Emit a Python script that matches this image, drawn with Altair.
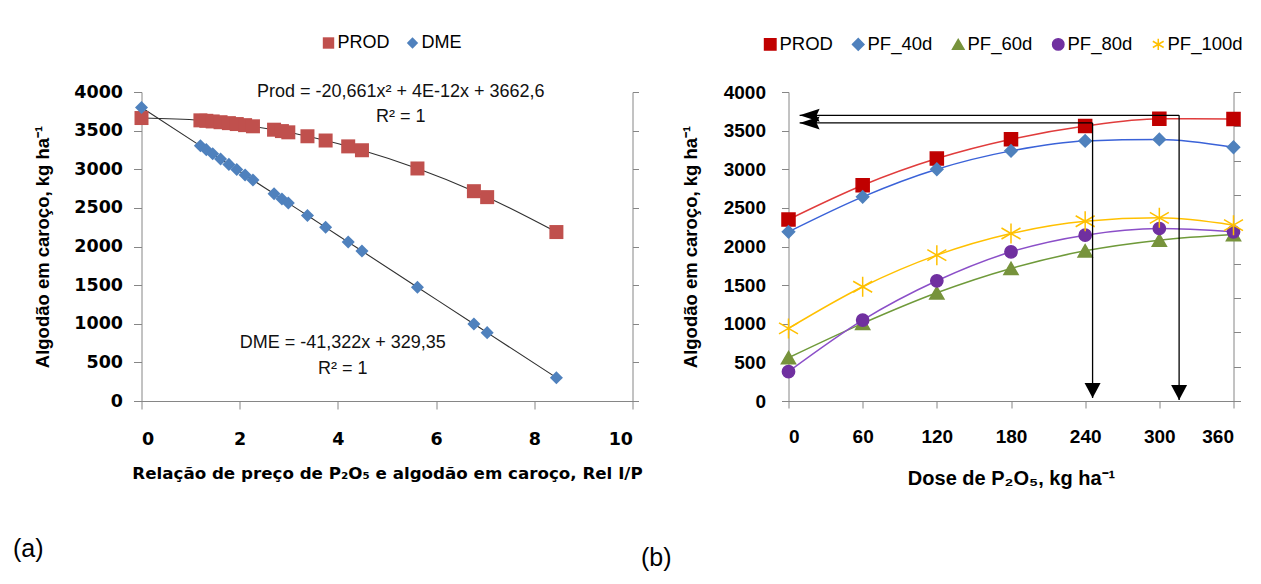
import altair as alt
import pandas as pd

# ---------------- panel (a) data ----------------
rel_ip = [0, 1.20, 1.32, 1.45, 1.61, 1.78, 1.94, 2.11, 2.27, 2.70, 2.86, 2.99,
          3.38, 3.75, 4.21, 4.49, 5.62, 6.77, 7.04, 8.45]
prod_a = [3663, 3633, 3627, 3619, 3609, 3597, 3585, 3571, 3556, 3512, 3494, 3478,
          3427, 3372, 3296, 3246, 3010, 2716, 2639, 2187]
dme_a = [3800, 3303, 3254, 3200, 3133, 3063, 2997, 2926, 2860, 2682, 2616, 2562,
         2401, 2248, 2057, 1941, 1473, 997, 885, 302]
series_a = ["PROD", "DME"]
colors_a = ["#C0504D", "#4F81BD"]
shapes_a = ["square", "diamond"]
sizes_a = [196, 170]

eq_text = ["Prod = -20,661x² + 4E-12x + 3662,6", "R² = 1",
           "DME = -41,322x + 329,35", "R² = 1"]
eq_x = [5.28, 5.28, 4.1, 4.1]
eq_y = [4000, 3680, 745, 420]

# ---------------- panel (b) data ----------------
doses = [0, 60, 120, 180, 240, 300, 360]
series_b = ["PROD", "PF_40d", "PF_60d", "PF_80d", "PF_100d"]
prod_b = [2349, 2793, 3138, 3388, 3560, 3655, 3650]
pf_40d = [2190, 2643, 3000, 3238, 3367, 3386, 3285]
pf_60d = [560, 1005, 1401, 1716, 1944, 2082, 2155]
pf_80d = [380, 1047, 1556, 1931, 2147, 2233, 2190]
pf_100d = [940, 1479, 1888, 2168, 2327, 2371, 2276]
marker_colors_b = ["#C00000", "#4F81BD", "#77933C", "#7030A0", "#FFC000"]
line_colors_b = ["#E03C3C", "#3A62D8", "#6F9A3A", "#8B4FC8", "#FFC000"]
ASTERISK = "M0,-1L0,1M-0.95,-0.55L0.95,0.55M-0.95,0.55L0.95,-0.55"
shapes_b = ["square", "diamond", "triangle-up", "circle", ASTERISK]
sizes_b = [170, 150, 200, 150, 400]

# arrows (panel b)
arrow_dose = [316, 246]
arrow_level = [3698, 3600]
arrow_tip_dose = [9, 9]
arrow_tip_level = [12, 40]
HEAD_LEFT = "M0,0L2,-0.65L1.7,0L2,0.65Z"
HEAD_DOWN = "M0,0L-0.8,-1.5L0.8,-1.5Z"

GRAY = "#868686"
W_A, H_A = 491, 309
W_B, H_B = 445, 309
PLOT_LEFT, PLOT_TOP = 133.5, 84     # offset of panel (a) plot area inside the svg
SVG_W, SVG_H = 1245, 568


def series_frame(xs, ys, names, sizes, xname):
    rows = []
    for name, vals, sz in zip(names, ys, sizes):
        for xv, yv in zip(xs, vals):
            rows.append({xname: xv, "val": yv, "serie": name, "sz": sz})
    return pd.DataFrame(rows)


df_a = series_frame(rel_ip, [prod_a, dme_a], series_a, sizes_a, "rel")
df_b = series_frame(doses, [prod_b, pf_40d, pf_60d, pf_80d, pf_100d], series_b, sizes_b, "dose")

SIZE_ID = alt.Size("sz:Q", scale=alt.Scale(domain=[0, 1000], range=[0, 1000], zero=True, nice=False),
                   legend=None)

# ---------------- panel (a) ----------------
x_a = alt.X("rel:Q", scale=alt.Scale(domain=[0, 10], nice=False, zero=False),
            axis=alt.Axis(values=[0, 2, 4, 6, 8, 10],
                          title="Relação de preço de P₂O₅ e algodão em caroço, Rel I/P",
                          grid=False, tickSize=8, labelPadding=21, titlePadding=18,
                          labelFont="DejaVu Sans", labelFontWeight="bold", labelFontSize=17.5,
                          titleFont="DejaVu Sans", titleFontWeight="bold", titleFontSize=16.7,
                          domainColor=GRAY, tickColor=GRAY, labelColor="#000", titleColor="#000"))
y_a = alt.Y("val:Q", scale=alt.Scale(domain=[0, 4000], nice=False),
            axis=alt.Axis(values=list(range(0, 4001, 500)), format="d", orient="left",
                          title="Algodão em caroço, kg ha⁻¹",
                          grid=False, tickSize=8, labelPadding=11, titlePadding=21,
                          labelFont="DejaVu Sans", labelFontWeight="bold", labelFontSize=17.5,
                          titleFont="Liberation Sans", titleFontWeight="bold", titleFontSize=18.5,
                          domainColor=GRAY, tickColor=GRAY, labelColor="#000", titleColor="#000"))

leg_a = alt.Legend(orient="none", legendX=178, legendY=-58, direction="horizontal",
                   title=None, labelFont="Liberation Sans", labelFontSize=18, labelColor="#000",
                   symbolSize=130, columnPadding=13, labelOffset=0, padding=0)

lines_a = alt.Chart(df_a).mark_line(color="#303030", strokeWidth=1.1, interpolate="monotone").encode(
    x=x_a, y=y_a, detail="serie:N")
points_a = alt.Chart(df_a).mark_point(filled=True, opacity=1).encode(
    x=x_a, y=y_a,
    fill=alt.Fill("serie:N", scale=alt.Scale(domain=series_a, range=colors_a), legend=leg_a),
    shape=alt.Shape("serie:N", scale=alt.Scale(domain=series_a, range=shapes_a), legend=leg_a),
    size=SIZE_ID)
eq_df = pd.DataFrame({"rel": eq_x, "val": eq_y, "txt": eq_text})
texts_a = alt.Chart(eq_df).mark_text(font="Liberation Sans", fontSize=18, color="#111",
                                     align="center", baseline="middle").encode(
    x=x_a, y=y_a, text="txt:N")
lab_a = alt.Chart(pd.DataFrame({"txt": ["(a)"]})).mark_text(
    font="Liberation Sans", fontSize=25, align="left", baseline="middle", color="#000").encode(
    x=alt.value(-128.5), y=alt.value(457), text="txt:N")
raxis_a = alt.Chart(pd.DataFrame({"k": [0]})).mark_point(opacity=0).encode(
    y=alt.Y("k:Q", scale=alt.Scale(domain=[0, 4000], nice=False),
            axis=alt.Axis(orient="right", values=list(range(0, 4001, 500)), labels=False,
                          title=None, tickSize=6, grid=False, domainColor=GRAY, tickColor=GRAY)))

panel_a = alt.layer(alt.layer(lines_a, points_a, texts_a, lab_a), raxis_a).resolve_scale(
    y="independent").properties(width=W_A, height=H_A)

# ---------------- panel (b) ----------------
x_b = alt.X("dose:Q", scale=alt.Scale(domain=[0, 360], nice=False, zero=False),
            axis=alt.Axis(values=doses, title="Dose de P₂O₅, kg ha⁻¹",
                          grid=False, tickSize=7, labelPadding=19, titlePadding=22,
                          labelFont="Liberation Sans", labelFontWeight="bold", labelFontSize=19,
                          titleFont="Liberation Sans", titleFontWeight="bold", titleFontSize=20,
                          domainColor=GRAY, tickColor=GRAY, labelColor="#000", titleColor="#000"))
y_b = alt.Y("val:Q", scale=alt.Scale(domain=[0, 4000], nice=False),
            axis=alt.Axis(values=list(range(0, 4001, 500)), format="d", orient="left",
                          title="Algodão em caroço, kg ha⁻¹",
                          grid=False, tickSize=7, labelPadding=16, titlePadding=23,
                          labelFont="Liberation Sans", labelFontWeight="bold", labelFontSize=19,
                          titleFont="Liberation Sans", titleFontWeight="bold", titleFontSize=18.5,
                          domainColor=GRAY, tickColor=GRAY, labelColor="#000", titleColor="#000"))

leg_b = alt.Legend(orient="none", legendX=-27.5, legendY=-57, direction="horizontal",
                   title=None, labelFont="Liberation Sans", labelFontSize=18.5, labelColor="#000",
                   symbolSize=130, symbolStrokeWidth=1.5, columnPadding=16, labelOffset=0, padding=0)

lines_b = []
for name, col in zip(series_b, line_colors_b):
    lines_b.append(
        alt.Chart(df_b).transform_filter(alt.datum.serie == name).mark_line(
            color=col, strokeWidth=1.5, interpolate="monotone").encode(x=x_b, y=y_b))

points_b = alt.Chart(df_b).mark_point(filled=True, opacity=1, strokeWidth=1.5).encode(
    x=x_b, y=y_b,
    fill=alt.Fill("serie:N", scale=alt.Scale(domain=series_b, range=marker_colors_b), legend=leg_b),
    stroke=alt.Stroke("serie:N", scale=alt.Scale(domain=series_b, range=marker_colors_b), legend=leg_b),
    shape=alt.Shape("serie:N", scale=alt.Scale(domain=series_b, range=shapes_b), legend=leg_b),
    size=SIZE_ID)

arr_h = pd.DataFrame({"dose": arrow_tip_dose, "dose2": arrow_dose, "val": arrow_level})
arr_v = pd.DataFrame({"dose": arrow_dose, "val": arrow_level, "val2": arrow_tip_level})
arr_vh = pd.DataFrame({"dose": arrow_dose, "val": arrow_tip_level})
rules_h = alt.Chart(arr_h).mark_rule(color="#000", strokeWidth=1.3).encode(
    x=x_b, x2="dose2:Q", y=y_b)
rules_v = alt.Chart(arr_v).mark_rule(color="#000", strokeWidth=1.3).encode(
    x=x_b, y=y_b, y2="val2:Q")
heads_h = alt.Chart(arr_h).mark_point(shape=HEAD_LEFT, filled=True, color="#000",
                                      size=400, opacity=1).encode(x=x_b, y=y_b)
heads_v = alt.Chart(arr_vh).mark_point(shape=HEAD_DOWN, filled=True, color="#000",
                                       size=400, opacity=1).encode(x=x_b, y=y_b)
lab_b = alt.Chart(pd.DataFrame({"txt": ["(b)"]})).mark_text(
    font="Liberation Sans", fontSize=25, align="left", baseline="middle", color="#000").encode(
    x=alt.value(-147.5), y=alt.value(466), text="txt:N")
raxis_b = alt.Chart(pd.DataFrame({"k": [0]})).mark_point(opacity=0).encode(
    y=alt.Y("k:Q", scale=alt.Scale(domain=[0, 9], nice=False),
            axis=alt.Axis(orient="right", values=list(range(0, 10)), labels=False,
                          title=None, tickSize=7, grid=False, domainColor=GRAY, tickColor=GRAY)))

panel_b = alt.layer(
    alt.layer(*lines_b, points_b, rules_h, rules_v, heads_h, heads_v, lab_b), raxis_b
).resolve_scale(y="independent").properties(width=W_B, height=H_B)

chart = alt.hconcat(panel_a, panel_b, spacing=156, bounds="flush").resolve_scale(
    fill="independent", shape="independent", size="independent", stroke="independent"
).properties(
    autosize=alt.AutoSizeParams(type="none"),
    padding={"left": PLOT_LEFT, "top": PLOT_TOP,
             "right": SVG_W - PLOT_LEFT, "bottom": SVG_H - PLOT_TOP},
    background="white",
).configure_view(strokeWidth=0)

chart.save("out.html", embed_options={"renderer": "svg", "actions": False})
